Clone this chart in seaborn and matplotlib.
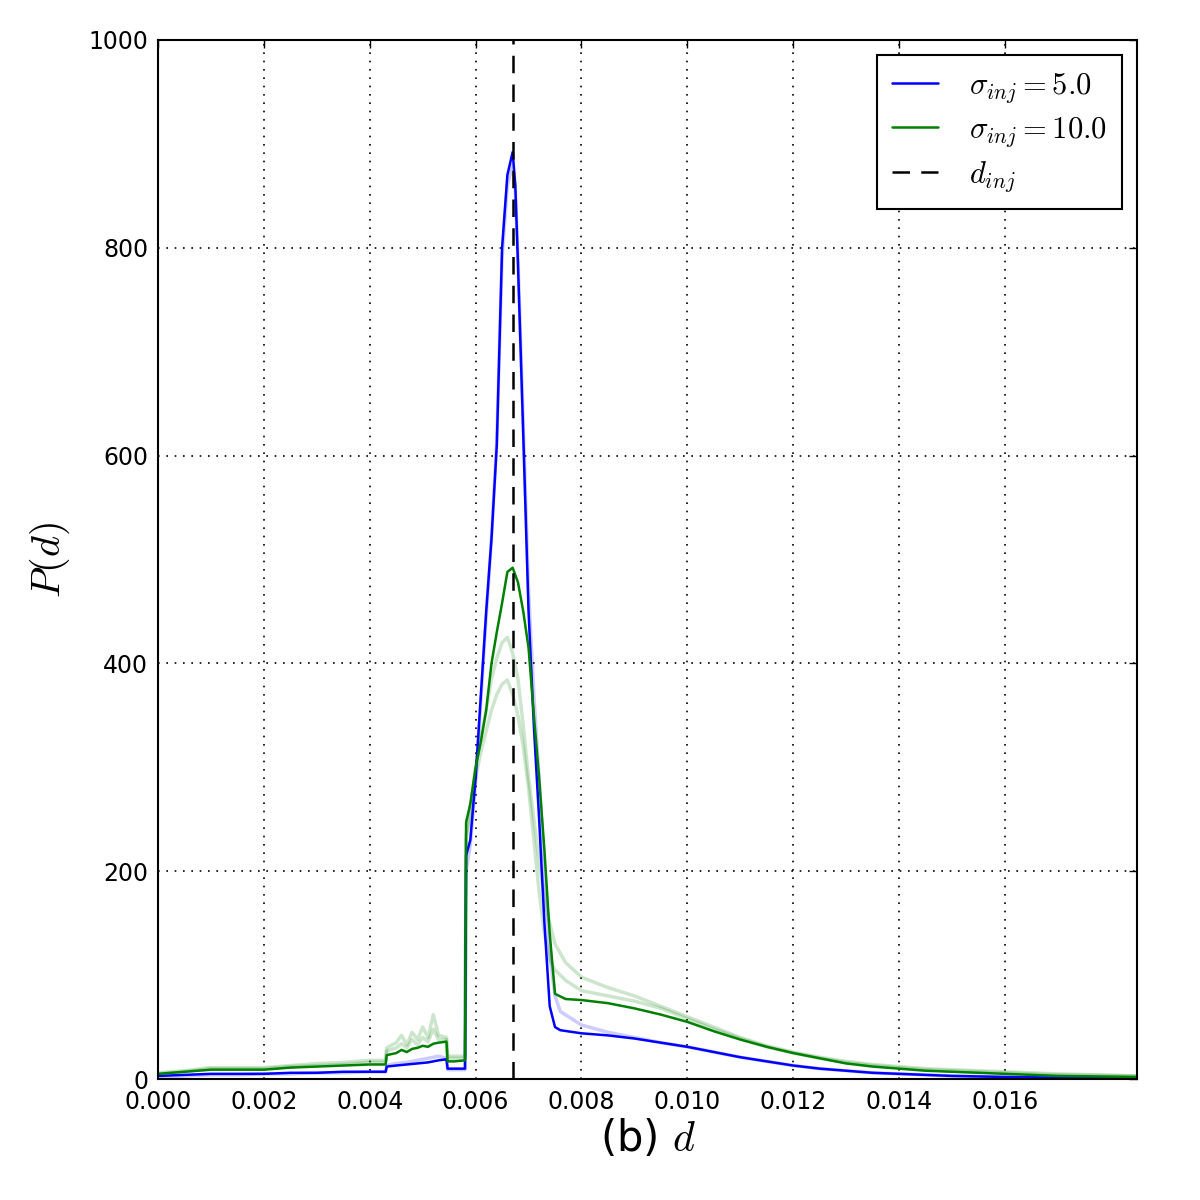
import numpy as np
import pandas as pd
import matplotlib
matplotlib.use("Agg")
import matplotlib.pyplot as plt
import seaborn as sns

sns.set_style("white")
plt.rcParams['font.family'] = ['DejaVu Sans']
plt.rcParams['mathtext.fontset'] = 'cm'
plt.rcParams['text.color'] = 'black'
plt.rcParams['axes.labelcolor'] = 'black'
plt.rcParams['xtick.color'] = 'black'
plt.rcParams['ytick.color'] = 'black'

# P(d) curves
blue_d = [0.0000, 0.0005, 0.0010, 0.0015, 0.0020, 0.0025, 0.0030, 0.0035, 0.0040, 0.0043,
          0.00432, 0.0045, 0.0047, 0.0049, 0.0051, 0.0053, 0.00545, 0.00547, 0.0056, 0.0058,
          0.00582, 0.0059, 0.0060, 0.0061, 0.0062, 0.0063, 0.0064, 0.0065, 0.0066, 0.0067,
          0.00675, 0.0068, 0.0069, 0.0070, 0.0071, 0.0072, 0.0073, 0.0074, 0.0075, 0.0076,
          0.0080, 0.0085, 0.0090, 0.0095, 0.0100, 0.0105, 0.0110, 0.0115, 0.0120, 0.0125,
          0.0130, 0.0135, 0.0140, 0.0145, 0.0150, 0.0160, 0.0170, 0.0185]
blue_p = [3, 4, 5, 5, 5, 6, 6, 7, 7, 7,
          12, 13, 14, 15, 16, 18, 19, 10, 10, 10,
          215, 230, 290, 370, 450, 520, 610, 800, 870, 892,
          860, 785, 620, 450, 340, 250, 150, 70, 50, 47,
          44, 42, 39, 35, 31, 26, 21, 17, 13, 10,
          8, 6, 5, 4, 3, 2, 1.5, 1]

blue_faint_p = [2, 3, 4, 4, 5, 5, 6, 6, 7, 7,
                13, 15, 16, 18, 20, 22, 20, 9, 9, 9,
                200, 225, 285, 365, 445, 520, 615, 790, 860, 880,
                855, 790, 630, 470, 370, 290, 200, 120, 80, 65,
                52, 45, 40, 35, 31, 26, 21, 17, 13, 10,
                8, 6, 5, 4, 3, 2, 1.5, 1]

green_d = [0.0000, 0.0005, 0.0010, 0.0015, 0.0020, 0.0025, 0.0030, 0.0035, 0.0040, 0.0043,
           0.00432, 0.0045, 0.0046, 0.0047, 0.0048, 0.0049, 0.0050, 0.0051, 0.0052, 0.0053,
           0.00545, 0.00547, 0.0056, 0.0058, 0.00582, 0.0059, 0.0060, 0.0061, 0.0062, 0.0063,
           0.0064, 0.0065, 0.0066, 0.0067, 0.0068, 0.0069, 0.0070, 0.0071, 0.0072, 0.0073,
           0.0074, 0.0075, 0.0077, 0.0080, 0.0085, 0.0090, 0.0095, 0.0100, 0.0105, 0.0110,
           0.0115, 0.0120, 0.0125, 0.0130, 0.0135, 0.0140, 0.0145, 0.0150, 0.0160, 0.0170,
           0.0185]
green_p = [5, 7, 9, 9, 9, 11, 12, 13, 14, 14,
           23, 25, 28, 26, 29, 30, 32, 31, 34, 35,
           36, 17, 17, 18, 247, 265, 300, 325, 355, 400,
           430, 458, 488, 492, 478, 450, 415, 350, 290, 220,
           140, 82, 77, 76, 73, 68, 62, 55, 46, 38,
           31, 25, 20, 15, 12, 10, 8, 7, 5, 3,
           2]
green_faint_a = [6, 8, 11, 11, 11, 13, 15, 16, 18, 18,
                 30, 35, 42, 33, 45, 38, 50, 40, 62, 42,
                 40, 22, 22, 22, 230, 260, 300, 330, 355, 385,
                 405, 420, 425, 410, 385, 340, 290, 250, 210, 175,
                 150, 130, 112, 98, 88, 80, 70, 60, 50, 40,
                 32, 26, 21, 17, 14, 12, 10, 9, 7, 5,
                 3]
green_faint_b = [5, 7, 10, 10, 10, 12, 13, 14, 16, 16,
                 27, 30, 34, 30, 38, 33, 40, 36, 48, 38,
                 38, 20, 20, 20, 235, 255, 290, 315, 335, 355,
                 370, 380, 384, 370, 350, 320, 280, 230, 180, 140,
                 115, 105, 95, 85, 80, 75, 68, 58, 48, 39,
                 31, 25, 20, 16, 13, 11, 9, 8, 6, 4,
                 3]

d_inj = 0.0067

fig = plt.figure(figsize=(12, 12), dpi=100)
ax = fig.add_axes([0.1317, 0.1008, 0.816, 0.866])

faint_kw = dict(lw=2.5, alpha=0.2, sort=False, estimator=None, legend=False)
sns.lineplot(x=blue_d, y=blue_faint_p, color='#0000ff', ax=ax, **faint_kw)
sns.lineplot(x=green_d, y=green_faint_a, color='#008000', ax=ax, **faint_kw)
sns.lineplot(x=green_d, y=green_faint_b, color='#008000', ax=ax, **faint_kw)

sns.lineplot(x=blue_d, y=blue_p, color='#0000ff', lw=1.8, sort=False, estimator=None,
             ax=ax, label=r'$\sigma_{inj} = 5.0$')
sns.lineplot(x=green_d, y=green_p, color='#008000', lw=1.8, sort=False, estimator=None,
             ax=ax, label=r'$\sigma_{inj} = 10.0$')
ax.axvline(d_inj, color='black', ls='--', lw=1.8, dashes=(7, 4.5), label=r'$d_{inj}$')

ax.set_xlim(0, 0.0185)
ax.set_ylim(0, 1000)
xt = np.arange(0, 0.0161, 0.002)
ax.set_xticks(xt)
ax.set_xticklabels(['%.3f' % t for t in xt])
ax.set_yticks(np.arange(0, 1001, 200))
ax.tick_params(labelsize=17, direction='in', top=True, right=True, length=6, width=1)
ax.tick_params(axis='x', pad=8)
ax.tick_params(axis='y', pad=7)
ax.grid(True, color='black', ls=(0, (1, 4)), lw=1.2)
for s in ax.spines.values():
    s.set_color('black')
    s.set_linewidth(1.5)

ax.set_xlabel(r'(b) $d$', fontsize=30, labelpad=3)
ax.set_ylabel(r'$P(d)$', fontsize=29, labelpad=12)

leg = ax.legend(loc='upper right', fontsize=22, fancybox=False, framealpha=1,
                edgecolor='black', borderpad=0.5, handlelength=1.5, handletextpad=1.0,
                labelspacing=0.33, borderaxespad=0.5)
leg.get_frame().set_linewidth(1.5)

fig.savefig('out.png', dpi=100, facecolor='white')
